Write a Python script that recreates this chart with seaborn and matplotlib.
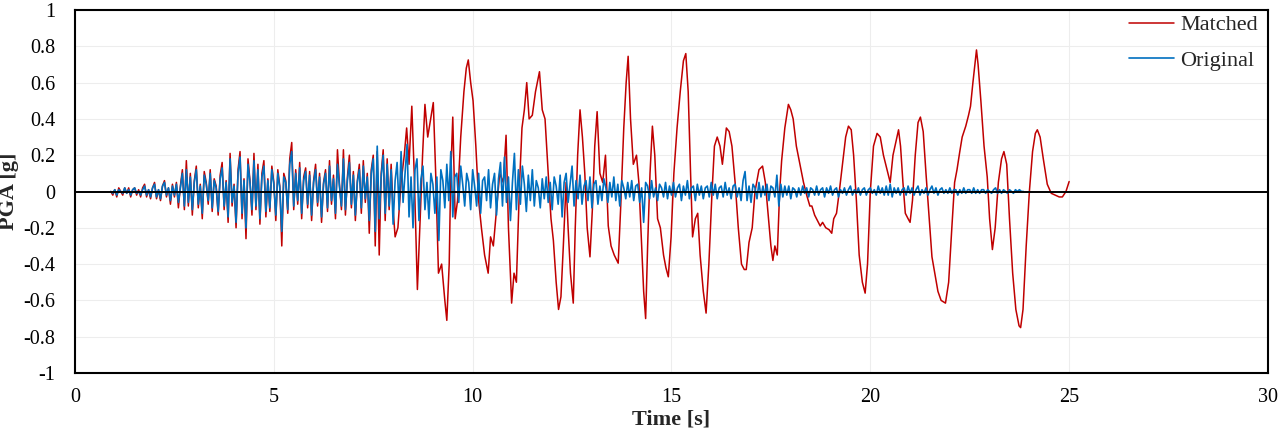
import numpy as np
import pandas as pd
import matplotlib
matplotlib.use("Agg")
import matplotlib.pyplot as plt
import seaborn as sns

# ---------------- data ----------------
# Original record, sampled every 0.05 s starting at 0.90 s
orig_start, orig_step = 0.90, 0.05
original_vals = [
    0.00, -0.01, 0.01, -0.02, 0.01, 0.00, -0.01, 0.02, -0.01, 0.01, -0.02, 0.01, 0.02, -0.01, 0.00, -0.02, 0.01, 0.03, -0.02, 0.01,
    -0.03, 0.02, 0.04, -0.03, 0.01, -0.04, 0.03, 0.05, -0.02, 0.02, -0.05, 0.03, -0.02, 0.04, -0.06, 0.02, 0.10, -0.08, 0.12, -0.06,
    0.08, -0.10, 0.05, 0.12, -0.07, 0.03, -0.12, 0.09, 0.04, -0.05, 0.10, -0.09, 0.06, 0.02, -0.11, 0.07, 0.13, -0.08, 0.05, -0.14,
    0.18, -0.06, 0.03, -0.17, 0.10, 0.19, -0.12, 0.06, -0.20, 0.15, 0.05, -0.10, 0.17, -0.08, 0.12, -0.15, 0.08, 0.14, -0.11, 0.06,
    -0.09, 0.12, 0.04, -0.13, 0.10, 0.02, -0.22, 0.08, 0.05, -0.10, 0.15, 0.22, -0.08, 0.10, -0.05, 0.13, -0.12, 0.06, 0.11, -0.07,
    0.09, -0.13, 0.05, 0.12, -0.06, 0.08, -0.14, 0.04, 0.10, -0.09, 0.14, -0.05, 0.07, -0.12, 0.15, 0.03, -0.08, 0.18, -0.10, 0.06,
    0.16, -0.07, 0.09, -0.13, 0.05, 0.12, -0.09, 0.14, -0.04, 0.08, -0.16, 0.10, 0.18, -0.22, 0.25, -0.15, 0.08, 0.20, -0.12, 0.15,
    -0.08, 0.12, -0.18, 0.06, 0.16, -0.10, 0.22, -0.06, 0.10, 0.26, -0.14, 0.08, -0.20, 0.12, 0.18, -0.16, 0.07, 0.14, -0.10, 0.05,
    -0.15, 0.10, 0.04, -0.12, 0.08, -0.27, 0.12, 0.06, -0.09, 0.15, -0.05, 0.22, -0.14, 0.08, 0.10, -0.06, 0.14, 0.04, -0.08, 0.10,
    0.05, -0.10, 0.12, 0.03, -0.08, 0.10, -0.12, 0.06, 0.08, -0.05, 0.12, -0.09, 0.04, 0.10, -0.13, 0.07, 0.16, -0.08, 0.19, -0.06,
    0.08, -0.16, 0.05, 0.21, -0.10, 0.12, -0.07, 0.14, 0.04, -0.11, 0.09, -0.05, 0.12, -0.08, 0.06, 0.02, -0.09, 0.07, -0.04, 0.08,
    -0.06, 0.05, -0.10, 0.08, 0.03, -0.07, 0.09, -0.14, 0.05, 0.10, -0.06, 0.04, 0.14, -0.08, 0.06, -0.04, 0.09, -0.07, 0.03, 0.06,
    -0.05, 0.08, -0.09, 0.04, 0.06, -0.07, 0.03, -0.05, 0.07, 0.02, -0.06, 0.05, -0.03, 0.08, -0.05, 0.04, -0.08, 0.06, 0.02, -0.04,
    0.05, -0.03, 0.06, -0.05, 0.03, 0.04, -0.06, 0.02, -0.17, 0.05, 0.03, -0.04, 0.06, -0.03, 0.02, -0.05, 0.04, 0.02, -0.03, 0.05,
    -0.04, 0.03, -0.02, 0.05, -0.03, 0.02, 0.04, -0.05, 0.03, -0.02, 0.06, -0.04, 0.02, 0.03, -0.05, 0.04, -0.02, 0.03, -0.04, 0.02,
    0.03, -0.03, 0.05, -0.02, 0.04, -0.04, 0.02, 0.03, -0.03, 0.05, -0.02, 0.02, -0.04, 0.03, 0.04, -0.03, 0.02, -0.05, 0.06, 0.11,
    -0.05, 0.03, -0.06, 0.04, 0.02, -0.04, 0.05, -0.03, 0.03, -0.02, 0.04, -0.05, 0.03, 0.02, -0.03, 0.09, -0.08, 0.04, -0.03, 0.03,
    -0.02, 0.03, -0.04, 0.02, 0.01, -0.03, 0.02, -0.02, 0.03, -0.01, 0.02, -0.03, 0.02, 0.01, -0.02, 0.03, -0.02, 0.01, 0.02, -0.03,
    0.02, -0.01, 0.03, -0.02, 0.01, 0.02, -0.03, 0.01, -0.01, 0.02, -0.02, 0.01, 0.03, -0.02, 0.01, -0.01, 0.02, -0.02, 0.01, 0.02,
    -0.02, 0.01, 0.02, -0.01, 0.01, -0.02, 0.03, -0.01, 0.02, -0.02, 0.03, -0.02, 0.04, -0.03, 0.02, -0.01, 0.02, -0.02, 0.01, 0.02,
    -0.02, 0.03, -0.01, 0.02, -0.02, 0.01, 0.03, -0.02, 0.01, -0.01, 0.02, -0.02, 0.01, 0.03, -0.01, 0.02, -0.02, 0.01, 0.02, -0.01,
    0.01, -0.01, 0.02, -0.01, 0.01, 0.01, -0.02, 0.01, -0.01, 0.02, -0.01, 0.01, 0.01, -0.01, 0.02, -0.01, 0.01, -0.01, 0.01, 0.01,
    -0.01, 0.01, 0.00, -0.01, 0.01, 0.02, -0.01, 0.01, -0.01, 0.01, 0.00, -0.01, 0.01, 0.00, -0.01, 0.01, 0.00, 0.01, 0.00, 0.00,
]

# Matched record, early part sampled every 0.05 s starting at 0.90 s
matched_early_vals = [
    0.00, -0.02, 0.01, -0.03, 0.02, 0.00, -0.02, 0.02, -0.01, 0.02, -0.03, 0.01, 0.02, -0.02, 0.01, -0.03, 0.02, 0.04, -0.03, 0.01,
    -0.04, 0.02, 0.05, -0.04, 0.01, -0.05, 0.03, 0.06, -0.03, 0.02, -0.07, 0.04, -0.03, 0.05, -0.09, 0.03, 0.12, -0.10, 0.17, -0.08,
    0.10, -0.13, 0.06, 0.14, -0.09, 0.04, -0.15, 0.11, 0.05, -0.07, 0.12, -0.11, 0.07, 0.03, -0.13, 0.09, 0.16, -0.10, 0.06, -0.17,
    0.21, -0.08, 0.04, -0.20, 0.12, 0.22, -0.15, 0.07, -0.26, 0.18, 0.06, -0.13, 0.21, -0.10, 0.15, -0.18, 0.10, 0.17, -0.14, 0.07,
    -0.11, 0.14, 0.05, -0.16, 0.12, 0.03, -0.30, 0.10, 0.06, -0.12, 0.18, 0.27, -0.10, 0.12, -0.07, 0.16, -0.15, 0.08, 0.13, -0.09,
    0.11, -0.16, 0.06, 0.15, -0.08, 0.10, -0.17, 0.05, 0.12, -0.11, 0.17, -0.07, 0.09, -0.15, 0.23, 0.04, -0.10, 0.23, -0.13, 0.08,
    0.20, -0.09, 0.11, -0.16, 0.06, 0.15, -0.12, 0.17, -0.06, 0.10, -0.23, 0.12, 0.20, -0.30, 0.22, -0.35, 0.10, 0.23, -0.16, 0.18,
    -0.10, 0.15,
]

# Matched record, later part: times [s] and values [g]
matched_late_t = [
    8.00, 8.05, 8.12, 8.20, 8.28, 8.34, 8.40, 8.47, 8.53, 8.61, 8.68, 8.74, 8.80, 8.87, 8.93, 9.01, 9.07, 9.14, 9.22, 9.30,
    9.35, 9.41, 9.45, 9.50, 9.56, 9.62, 9.70, 9.78, 9.84, 9.89, 9.95, 10.01, 10.08, 10.15, 10.22, 10.30, 10.39, 10.45, 10.52, 10.60,
    10.68, 10.77, 10.84, 10.90, 10.98, 11.04, 11.10, 11.18, 11.24, 11.30, 11.36, 11.42, 11.50, 11.58, 11.68, 11.75, 11.82, 11.90, 11.97, 12.03,
    12.10, 12.16, 12.22, 12.28, 12.35, 12.40, 12.46, 12.53, 12.58, 12.64, 12.70, 12.76, 12.82, 12.88, 12.95, 13.01, 13.07, 13.13, 13.20, 13.27,
    13.34, 13.41, 13.48, 13.56, 13.66, 13.72, 13.80, 13.86, 13.91, 13.97, 14.04, 14.12, 14.18, 14.25, 14.30, 14.35, 14.40, 14.46, 14.52, 14.58,
    14.65, 14.72, 14.80, 14.86, 14.92, 14.99, 15.06, 15.14, 15.22, 15.30, 15.36, 15.42, 15.48, 15.53, 15.60, 15.66, 15.72, 15.80, 15.87, 15.94,
    16.02, 16.08, 16.15, 16.22, 16.28, 16.33, 16.38, 16.45, 16.52, 16.60, 16.68, 16.76, 16.83, 16.88, 16.95, 17.03, 17.10, 17.20, 17.29, 17.36,
    17.44, 17.50, 17.55, 17.60, 17.66, 17.72, 17.77, 17.85, 17.94, 18.00, 18.06, 18.14, 18.24, 18.32, 18.40, 18.48, 18.53, 18.60, 18.67, 18.74,
    18.80, 18.88, 18.96, 19.03, 19.08, 19.15, 19.22, 19.30, 19.38, 19.45, 19.52, 19.58, 19.65, 19.72, 19.80, 19.87, 19.93, 20.00, 20.08, 20.17,
    20.25, 20.33, 20.42, 20.50, 20.57, 20.65, 20.71, 20.76, 20.82, 20.88, 20.95, 21.00, 21.06, 21.13, 21.20, 21.26, 21.33, 21.40, 21.48, 21.55,
    21.62, 21.70, 21.78, 21.89, 21.97, 22.05, 22.12, 22.18, 22.25, 22.31, 22.40, 22.47, 22.52, 22.58, 22.64, 22.67, 22.71, 22.78, 22.86, 22.94,
    23.00, 23.07, 23.14, 23.22, 23.30, 23.36, 23.43, 23.50, 23.58, 23.66, 23.74, 23.78, 23.84, 23.92, 24.00, 24.08, 24.15, 24.20, 24.27, 24.35,
    24.45, 24.55, 24.65, 24.75, 24.83, 24.92, 25.00,
]
matched_late_v = [
    -0.10, -0.25, -0.20, 0.05, 0.20, 0.35, 0.15, 0.47, 0.10, -0.54, -0.15, 0.20, 0.48, 0.30, 0.38, 0.49, 0.10, -0.45, -0.40, -0.60,
    -0.71, -0.40, 0.10, 0.41, -0.15, -0.05, 0.30, 0.55, 0.68, 0.725, 0.60, 0.50, 0.25, -0.05, -0.20, -0.35, -0.45, -0.25, -0.30, -0.10,
    0.10, 0.05, 0.31, -0.20, -0.615, -0.45, -0.50, 0.05, 0.35, 0.45, 0.60, 0.40, 0.42, 0.55, 0.66, 0.45, 0.40, 0.10, -0.15, -0.27,
    -0.50, -0.65, -0.58, -0.30, 0.05, -0.20, -0.45, -0.615, -0.20, 0.20, 0.45, 0.30, 0.10, -0.20, -0.36, -0.10, 0.25, 0.44, 0.10, 0.05,
    0.20, -0.19, -0.30, -0.35, -0.395, -0.10, 0.35, 0.60, 0.745, 0.40, 0.15, 0.20, 0.05, -0.30, -0.55, -0.70, -0.30, 0.10, 0.36, 0.20,
    -0.15, -0.20, -0.35, -0.42, -0.47, -0.25, 0.10, 0.35, 0.55, 0.72, 0.76, 0.55, 0.10, -0.25, -0.15, -0.12, -0.35, -0.55, -0.67, -0.40,
    0.00, 0.25, 0.30, 0.25, 0.15, 0.25, 0.35, 0.33, 0.25, 0.05, -0.20, -0.40, -0.43, -0.43, -0.28, -0.20, 0.00, 0.12, 0.14, 0.05,
    -0.15, -0.30, -0.38, -0.30, -0.35, 0.00, 0.17, 0.35, 0.48, 0.45, 0.40, 0.25, 0.14, 0.05, -0.02, -0.08, -0.08, -0.13, -0.16, -0.19,
    -0.17, -0.20, -0.21, -0.23, -0.15, -0.12, 0.00, 0.15, 0.30, 0.36, 0.34, 0.20, -0.05, -0.35, -0.50, -0.56, -0.40, 0.00, 0.25, 0.32,
    0.30, 0.20, 0.12, 0.05, 0.20, 0.28, 0.34, 0.25, 0.05, -0.12, -0.15, -0.17, -0.05, 0.20, 0.38, 0.41, 0.33, 0.10, -0.15, -0.36,
    -0.45, -0.55, -0.60, -0.615, -0.50, -0.20, 0.05, 0.12, 0.22, 0.30, 0.36, 0.42, 0.47, 0.60, 0.72, 0.78, 0.70, 0.50, 0.25, 0.08,
    -0.15, -0.32, -0.20, 0.05, 0.18, 0.22, 0.15, -0.15, -0.45, -0.65, -0.74, -0.75, -0.65, -0.30, 0.00, 0.22, 0.32, 0.34, 0.30, 0.18,
    0.04, -0.01, -0.02, -0.03, -0.03, 0.00, 0.055,
]

x_ticks = [0, 5, 10, 15, 20, 25, 30]
y_ticks = [1, 0.8, 0.6, 0.4, 0.2, 0, -0.2, -0.4, -0.6, -0.8, -1]
y_tick_labels = ["1", "0.8", "0.6", "0.4", "0.2", "0", "-0.2", "-0.4", "-0.6", "-0.8", "-1"]
series_names = ["Matched", "Original"]

# ---------------- build tables ----------------
t_orig = orig_start + orig_step * np.arange(len(original_vals))
t_m_early = orig_start + orig_step * np.arange(len(matched_early_vals))
t_matched = np.concatenate([t_m_early, np.array(matched_late_t)])
v_matched = np.concatenate([np.array(matched_early_vals), np.array(matched_late_v)])

df_m = pd.DataFrame({"t": t_matched, "v": v_matched, "series": series_names[0]})
df_o = pd.DataFrame({"t": t_orig, "v": np.array(original_vals), "series": series_names[1]})

# ---------------- plot ----------------
sns.set_style("white")
plt.rcParams["font.family"] = ["Liberation Serif", "DejaVu Serif"]

fig = plt.figure(figsize=(12.8, 4.3), dpi=100)
ax = fig.add_axes([0.0586, 0.1326, 0.932, 0.8441])

red = "#C00000"
blue = "#0070C0"
sns.lineplot(data=df_m, x="t", y="v", color=red, lw=1.1, estimator=None, sort=False,
             ax=ax, label=series_names[0], zorder=2)
sns.lineplot(data=df_o, x="t", y="v", color=blue, lw=1.2, estimator=None, sort=False,
             ax=ax, label=series_names[1], zorder=3)
ax.axhline(0, color="black", lw=1.4, zorder=4)

ax.set_xlim(0, 30)
ax.set_ylim(-1, 1)
ax.set_xticks(x_ticks)
ax.set_xticklabels([str(v) for v in x_ticks])
ax.set_yticks(y_ticks)
ax.set_yticklabels(y_tick_labels)
ax.tick_params(axis="both", length=0, labelsize=14.5, colors="black")
ax.tick_params(axis="x", pad=11)
ax.tick_params(axis="y", pad=14)
ax.grid(True, color="#EDEDED", lw=0.8)
ax.set_axisbelow(True)
for s in ax.spines.values():
    s.set_color("black")
    s.set_linewidth(1.5)

ax.set_xlabel("Time [s]", fontsize=16, fontweight="bold")
ax.xaxis.set_label_coords(0.5, -0.1)
ax.set_ylabel("PGA [g]", fontsize=16, fontweight="bold")
ax.yaxis.set_label_coords(-0.047, 0.5)

leg = ax.legend(loc="upper right", bbox_to_anchor=(1.0, 1.014), frameon=False, fontsize=16,
                handlelength=2.0, labelspacing=0.68, handletextpad=0.3,
                borderpad=0.2, borderaxespad=0.25)

fig.savefig("out.png", dpi=100)
